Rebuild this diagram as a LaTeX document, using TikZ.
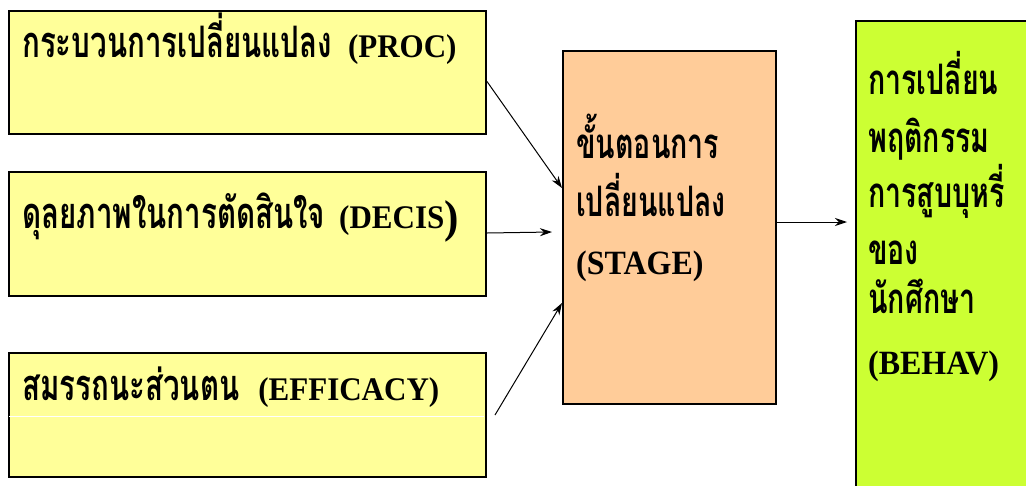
\documentclass[tikz,border=0pt]{standalone}
\usepackage{fontspec}
\setmainfont{Liberation Serif}[FakeStretch=0.94]
\newfontfamily\thaifont[Script=Thai,Scale=1.4,FakeStretch=0.68]{Loma}
\usetikzlibrary{arrows.meta}
\definecolor{boxyellow}{HTML}{FFFF99}
\definecolor{boxorange}{HTML}{FFCC99}
\definecolor{boxlime}{HTML}{CCFF33}
\tikzset{
  box/.style={draw=black, line width=2pt, anchor=north west, inner sep=0pt},
  lbl/.style={anchor=base west, inner sep=0pt, font=\bfseries\fontsize{33}{33}\selectfont},
  lbls/.style={anchor=base west, inner sep=0pt, font=\bfseries\fontsize{30}{30}\selectfont},
  lbll/.style={anchor=base west, inner sep=0pt, font=\bfseries\fontsize{34}{34}\selectfont},
  conn/.style={line width=1pt, -{Stealth[length=12pt,width=8pt]}}
}
\newcommand{\thx}[1]{{\thaifont #1}}
\begin{document}
\begin{tikzpicture}[x=1pt,y=-1pt]
\useasboundingbox (0,0) rectangle (1026,485);
\clip (0,0) rectangle (1026,485);
\fill[white] (0,0) rectangle (1026,485);
% boxes
\node[box, fill=boxyellow, minimum width=477pt, minimum height=123pt] (proc) at (8,10) {};
\node[box, fill=boxyellow, minimum width=477pt, minimum height=124pt] (decis) at (8,171) {};
\node[box, fill=boxyellow, minimum width=477pt, minimum height=124pt] (eff) at (8,352) {};
\draw[white, line width=0.6pt] (9,416) -- (484,416);
\node[box, fill=boxorange, minimum width=213pt, minimum height=353pt] (stage) at (562,50) {};
\node[box, fill=boxlime, minimum width=200pt, minimum height=500pt] (behav) at (855,20) {};
% labels
\node[lbl] (tproc) at (22,57) {\fontsize{31}{31}\selectfont\thx{กระบวนการเปลี่ยนแปลง}\hspace{16pt}\fontsize{33}{33}\selectfont(PROC)};
\node[lbl] (tdecis) at (22,228) {\fontsize{31}{31}\selectfont\thx{ดุลยภาพในการตัดสินใจ}\hspace{14pt}\fontsize{33}{33}\selectfont(DECIS{\fontsize{46}{46}\selectfont\raisebox{-4pt}{)}}};
\node[lbl] (teff) at (22,400) {\fontsize{31}{31}\selectfont\thx{สมรรถนะส่วนตน}\hspace{19pt}\fontsize{33}{33}\selectfont(EFFICACY)};
\node[lbls] (ts1) at (576,158) {\thx{ขั้นตอนการ}};
\node[lbls] (ts2) at (576,216) {\thx{เปลี่ยนแปลง}};
\node[lbll] (ts3) at (576,274) {(STAGE)};
\node[lbls] (tb1) at (868,94) {\thx{การเปลี่ยน}};
\node[lbls] (tb2) at (868,152) {\thx{พฤติกรรม}};
\node[lbls] (tb3) at (868,207) {\thx{การสูบบุหรี่}};
\node[lbls] (tb4) at (868,264) {\thx{ของ}};
\node[lbls] (tb5) at (868,313) {\thx{นักศึกษา}};
\node[lbll] (tb6) at (868,374) {(BEHAV)};
% connectors
\draw[conn] ([yshift=-9pt]proc.east) -- ([yshift=-138pt]stage.north west);
\draw[conn] ([yshift=1pt]decis.east) -- ([xshift=-10pt,yshift=-182pt]stage.north west);
\draw[conn] ([xshift=8pt]eff.east) -- ([yshift=-253pt]stage.north west);
\draw[conn] ([yshift=-172pt]stage.north east) -- ([xshift=-8pt,yshift=-202pt]behav.north west);
\end{tikzpicture}
\end{document}
